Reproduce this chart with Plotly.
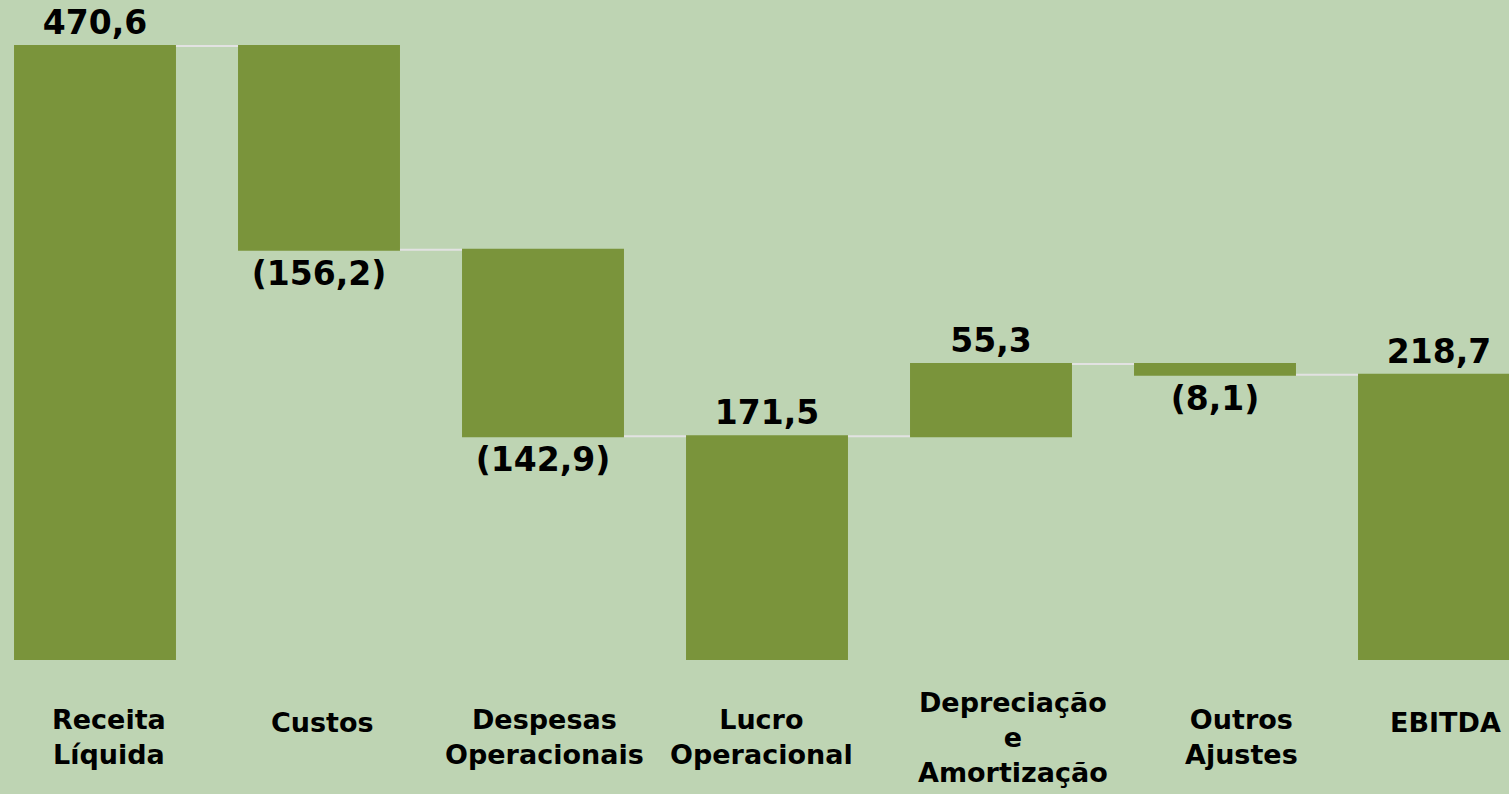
import plotly.graph_objects as go

# dados do gráfico (R$ milhões)
categorias = ["Receita<br>Líquida", "Custos", "Despesas<br>Operacionais", "Lucro<br>Operacional",
              "Depreciação<br>e<br>Amortização", "Outros<br>Ajustes", "EBITDA"]
medidas = ["absolute", "relative", "relative", "total", "relative", "relative", "total"]
valores = [470.6, -156.2, -142.9, 0, 55.3, -8.1, 0]
rotulos = ["470,6", "(156,2)", "(142,9)", "171,5", "55,3", "(8,1)", "218,7"]

verde = "#7a943b"
fundo = "#bed4b3"
fonte = "DejaVu Sans"
# pequenos deslocamentos horizontais dos rótulos (px), como no original
desloc = [14, 3, 1, -6, 22, 26, 6]

fig = go.Figure(go.Waterfall(
    x=list(range(len(categorias))),
    measure=medidas,
    y=valores,
    text=rotulos,
    textposition="outside",
    textfont=dict(family=fonte, size=33, color="#000000", weight="bold"),
    increasing=dict(marker=dict(color=verde)),
    decreasing=dict(marker=dict(color=verde)),
    totals=dict(marker=dict(color=verde)),
    connector=dict(line=dict(color="#e2e2e2", width=2)),
    width=0.723,
    cliponaxis=False,
    hoverinfo="skip",
))

# rótulos das categorias embaixo das barras (y em pixels)
for i, cat in enumerate(categorias):
    linhas = cat.count("<br>") + 1
    ypix = 737 if linhas > 1 else 722
    fig.add_annotation(
        x=i, y=(660 - ypix) / 660, xref="x", yref="paper", xshift=desloc[i],
        text=cat, showarrow=False, yanchor="middle",
        font=dict(family=fonte, size=27, color="#000000", weight="bold"),
    )

fig.update_layout(
    width=1509, height=794,
    margin=dict(l=0, r=0, t=0, b=134),
    paper_bgcolor=fundo, plot_bgcolor=fundo,
    showlegend=False,
    xaxis=dict(range=[-95 / 224, (1509 - 95) / 224], showticklabels=False,
               showgrid=False, zeroline=False),
    yaxis=dict(range=[0, 660 / (614 / 470.6)], showticklabels=False,
               showgrid=False, zeroline=False),
)

fig.write_html("out.html", config={"displayModeBar": False},
               post_script="document.body.style.margin='0';")
